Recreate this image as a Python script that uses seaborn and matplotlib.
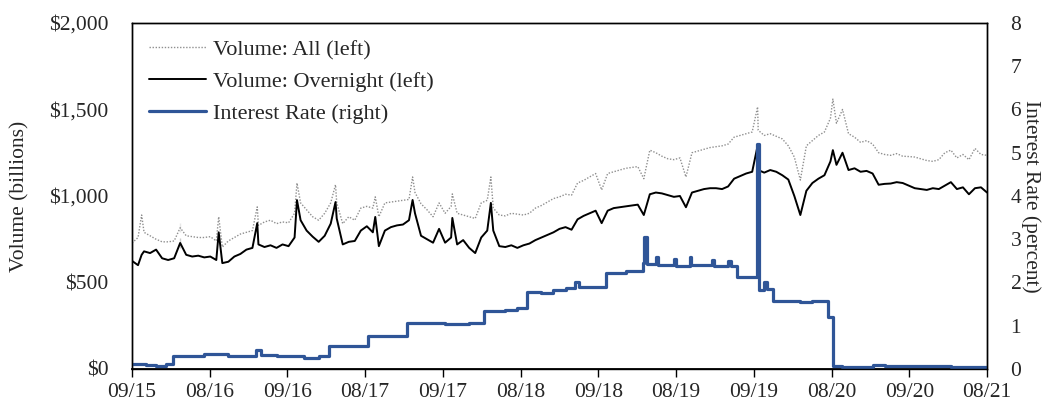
import numpy as np
import pandas as pd
import matplotlib
matplotlib.use("Agg")
import matplotlib.pyplot as plt
import seaborn as sns

# ---------------- data (months since 09/2015) ----------------
tick_labels = ["09/15", "08/16", "09/16", "08/17", "09/17", "08/18",
               "09/18", "08/19", "09/19", "08/20", "09/20", "08/21"]

grid_m = np.arange(0, 71.01, 0.5)

overnight = [
    625, 600, 680, 670, 690, 640, 630, 640, 700, 660,
    650, 655, 645, 650, 630, 612, 620, 650, 665, 690,
    700, 720, 705, 715, 700, 720, 710, 760, 860, 800,
    765, 735, 770, 840, 870, 720, 735, 740, 800, 825,
    790, 710, 800, 820, 830, 835, 860, 900, 770, 750,
    730, 810, 730, 760, 720, 745, 700, 670, 760, 800,
    800, 710, 705, 715, 700, 715, 725, 745, 760, 775,
    790, 810, 820, 805, 865, 885, 900, 915, 843, 915,
    930, 935, 940, 945, 950, 890, 1010, 1020, 1015, 1005,
    995, 1000, 935, 1020, 1030, 1040, 1045, 1045, 1040, 1055,
    1100, 1115, 1130, 1140, 1150, 1135, 1150, 1140, 1120, 1095,
    1000, 890, 1030, 1075, 1100, 1120, 1200, 1180, 1250, 1150,
    1160, 1140, 1145, 1130, 1065, 1070, 1072, 1080, 1075, 1060,
    1045, 1040, 1035, 1045, 1040, 1060, 1080, 1040, 1050, 1010,
    1045, 1050, 1020,
]

all_volume = [
    728, 760, 790, 770, 750, 735, 735, 740, 790, 770,
    765, 760, 760, 765, 740, 705, 740, 760, 780, 790,
    800, 830, 850, 860, 840, 850, 845, 900, 960, 920,
    880, 860, 900, 960, 960, 840, 880, 860, 930, 940,
    930, 880, 960, 965, 970, 975, 980, 1020, 955, 920,
    880, 960, 900, 940, 900, 890, 880, 870, 960, 975,
    930, 890, 885, 900, 895, 890, 900, 930, 945, 965,
    985, 995, 1010, 1005, 1075, 1090, 1110, 1130, 1035, 1130,
    1140, 1150, 1160, 1165, 1170, 1100, 1265, 1250, 1230, 1215,
    1210, 1220, 1110, 1250, 1260, 1270, 1280, 1285, 1290, 1300,
    1340, 1350, 1360, 1370, 1380, 1350, 1360, 1345, 1330, 1290,
    1225, 1092, 1290, 1320, 1350, 1370, 1450, 1420, 1500, 1360,
    1340, 1310, 1320, 1300, 1250, 1240, 1235, 1245, 1230, 1228,
    1225, 1215, 1205, 1200, 1210, 1250, 1265, 1220, 1240, 1210,
    1275, 1240, 1235,
]

# month-end / quarter-end spikes
spike_m = [0.8, 4.0, 7.2, 10.4, 13.7, 16.9, 20.2, 23.3, 26.6, 29.8, 51.95, 58.2]
spike_overnight = [660, 757, 790, 843, 976, 965, 879, 977, 873, 960, 1290, 1265]
spike_all = [890, 843, 880, 937, 1075, 1065, 995, 1110, 1012, 1110, 1515, 1560]

# interest rate change points (percent)
rate_m = [0.0, 1.2, 2.0, 2.8, 3.4, 6.0, 8.0, 10.3, 10.7, 12.0, 14.3, 15.5, 16.4,
          19.6, 22.8, 26.0, 28.0, 29.2, 31.0, 32.0, 32.8, 34.0, 35.0, 36.0,
          36.8, 37.1, 39.4, 41.0, 42.4, 42.55, 42.75, 43.5, 43.65, 45.0, 45.15,
          46.3, 46.45, 48.2, 48.35, 49.5, 49.7, 50.2, 51.9, 52.05, 52.5, 52.7,
          53.2, 55.5, 56.5, 57.8, 58.2, 59.0, 61.5, 62.5, 68.0, 71.0]
rate_val = [0.12, 0.10, 0.08, 0.12, 0.31, 0.34, 0.30, 0.45, 0.33, 0.31, 0.25, 0.30, 0.52,
            0.77, 1.06, 1.03, 1.06, 1.33, 1.36, 1.40, 1.79, 1.75, 1.82, 1.88,
            2.02, 1.90, 2.22, 2.27, 2.45, 3.05, 2.42, 2.58, 2.40, 2.55, 2.38,
            2.60, 2.40, 2.52, 2.37, 2.50, 2.38, 2.13, 5.20, 1.82, 2.02, 1.85,
            1.57, 1.55, 1.58, 1.21, 0.08, 0.05, 0.10, 0.06, 0.04, 0.03]

# ---------------- plotting ----------------
sns.set_style("white")
plt.rcParams["font.family"] = ["Liberation Serif", "DejaVu Serif"]
FS = 15.5
plt.rcParams["font.size"] = FS

vol = pd.DataFrame({
    "m": np.concatenate([grid_m, spike_m]),
    "overnight": np.concatenate([overnight, spike_overnight]),
    "all": np.concatenate([all_volume, spike_all]),
}).sort_values("m")
rate = pd.DataFrame({"m": rate_m, "rate": rate_val})

fig = plt.figure(figsize=(10.46, 4.12), dpi=100)
ax = fig.add_axes([0.1262, 0.1044, 0.8174, 0.8398])

sns.lineplot(data=vol, x="m", y="all", ax=ax, color="#8f8f8f",
             linestyle=(0, (1, 1.2)), linewidth=1.0, label="Volume: All (left)")
sns.lineplot(data=vol, x="m", y="overnight", ax=ax, color="black",
             linewidth=1.4, label="Volume: Overnight (left)")

ax2 = ax.twinx()
sns.lineplot(data=rate, x="m", y="rate", ax=ax2, color="#2F5597",
             linewidth=2.3, drawstyle="steps-post", label="Interest Rate (right)")

ax.set_xlim(0, 71)
ax.set_ylim(0, 2000)
ax2.set_ylim(0, 8)

ax.set_xticks(np.linspace(0, 71, len(tick_labels)))
ax.set_xticklabels(tick_labels)
ax.set_yticks([0, 500, 1000, 1500, 2000])
ax.set_yticklabels(["${:,.0f}".format(v) for v in [0, 500, 1000, 1500, 2000]])
ax2.set_yticks(range(0, 9))
ax2.set_yticklabels([str(v) for v in range(0, 9)])

ax.tick_params(axis="x", direction="out", length=6, width=1, pad=4,
               labelsize=FS, bottom=True, color="black")
ax.tick_params(axis="y", length=0, pad=17, labelsize=FS)
ax2.tick_params(axis="y", length=0, pad=17, labelsize=FS)

ax.set_xlabel("")
ax.set_ylabel("Volume (billions)", fontsize=FS, labelpad=14)
ax2.set_ylabel("Interest Rate (percent)", fontsize=FS, rotation=270, labelpad=14)

for a in (ax, ax2):
    for s in a.spines.values():
        s.set_color("black")
        s.set_linewidth(1.0)
ax.spines["bottom"].set_linewidth(1.3)

h1, l1 = ax.get_legend_handles_labels()
h2, l2 = ax2.get_legend_handles_labels()
if ax2.get_legend() is not None:
    ax2.get_legend().remove()
ax.legend(h1 + h2, l1 + l2, loc="upper left", bbox_to_anchor=(0.0, 1.0),
          frameon=False, fontsize=16, handlelength=2.6, handletextpad=0.3,
          labelspacing=0.5, borderaxespad=0.3, borderpad=0.45)

fig.savefig("out.png", dpi=100)
